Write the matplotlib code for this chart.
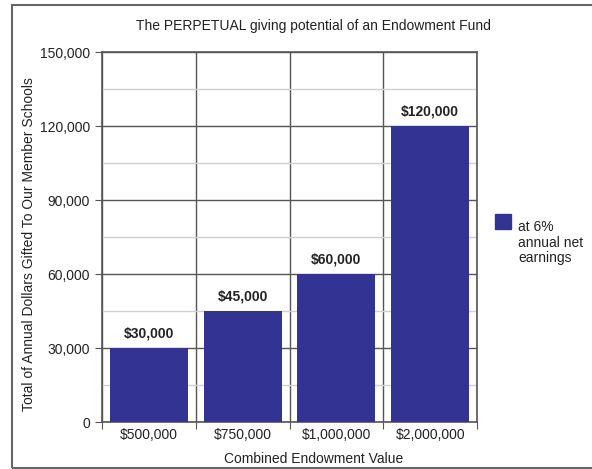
import matplotlib
matplotlib.use("Agg")
import matplotlib.pyplot as plt
from matplotlib.patches import Rectangle
from matplotlib.ticker import MultipleLocator, FuncFormatter

plt.rcParams['font.family'] = ['Liberation Sans', 'DejaVu Sans']

categories = ['$500,000', '$750,000', '$1,000,000', '$2,000,000']
values = [30000, 45000, 60000, 120000]
value_labels = ['$30,000', '$45,000', '$60,000', '$120,000']
series_name = 'at 6%\nannual net\nearnings'

bar_color = '#333394'
dark = '#555555'

fig = plt.figure(figsize=(5.92, 4.69), dpi=100)
ax = fig.add_axes([102 / 592, 1 - 422 / 469, 375 / 592, 370 / 469])

# outer frame
fig.patches.append(Rectangle((12 / 592, 1 / 469), 0.99, 463 / 469, transform=fig.transFigure,
                             fill=False, edgecolor='#666666', linewidth=1.5))

x = list(range(len(categories)))
ax.bar(x, values, width=0.83, color=bar_color, zorder=3)
for xi, v, lab in zip(x, values, value_labels):
    ax.text(xi, v + 3000, lab, ha='center', va='bottom', fontsize=10, fontweight='bold', color='#222222')

ax.set_xlim(-0.5, 3.5)
ax.set_ylim(0, 150000)

# y axis
ax.yaxis.set_major_locator(MultipleLocator(30000))
ax.yaxis.set_minor_locator(MultipleLocator(15000))
ax.yaxis.set_major_formatter(FuncFormatter(lambda v, p: f'{int(v):,}'))
ax.grid(axis='y', which='major', color=dark, linewidth=1, zorder=1)
ax.grid(axis='y', which='minor', color='#d0d0d0', linewidth=1, zorder=1)
ax.tick_params(axis='y', which='major', length=5, color=dark, labelsize=10, labelcolor='#222222')
ax.tick_params(axis='y', which='minor', length=0)

# x axis: separators at boundaries, labels at centers
ax.set_xticks([-0.5, 0.5, 1.5, 2.5, 3.5])
ax.set_xticklabels([])
ax.set_xticks(x, minor=True)
ax.set_xticklabels(categories, minor=True)
ax.grid(axis='x', which='major', color=dark, linewidth=1, zorder=1)
ax.tick_params(axis='x', which='major', length=5, color=dark)
ax.tick_params(axis='x', which='minor', length=0, labelsize=10, labelcolor='#222222', pad=4)

for s in ax.spines.values():
    s.set_color(dark)
    s.set_linewidth(1.2)

ax.set_title('The PERPETUAL giving potential of an Endowment Fund', fontsize=10, color='#222222',
             pad=16, x=0.565)
ax.set_xlabel('Combined Endowment Value', fontsize=10, color='#222222')
ax.xaxis.set_label_coords(0.565, -0.08)
ax.set_ylabel('Total of Annual Dollars Gifted To Our Member Schools', fontsize=10, color='#222222')
ax.yaxis.set_label_coords(-0.175, 0.48)

# legend
fig.patches.append(Rectangle((495 / 592, 1 - 229 / 469), 16 / 592, 15 / 469, transform=fig.transFigure,
                             color=bar_color))
fig.text(518 / 592, 1 - 220 / 469, series_name, fontsize=10, color='#222222', va='top', linespacing=1.15)

fig.savefig('out.png', dpi=100)
